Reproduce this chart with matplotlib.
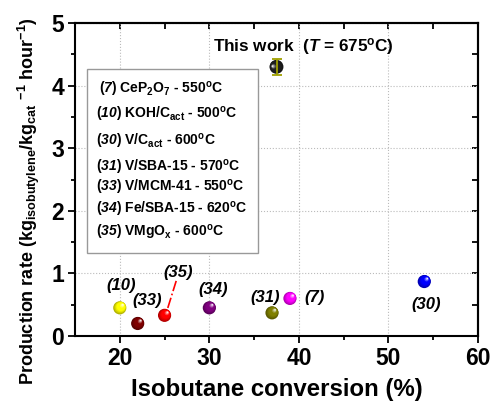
import numpy as np
import matplotlib
matplotlib.use("Agg")
import matplotlib.pyplot as plt
import matplotlib.colors as mcolors
import matplotlib.transforms as mtransforms
from matplotlib.patches import Rectangle

plt.rcParams['font.family'] = ['Liberation Sans', 'DejaVu Sans']
plt.rcParams['font.weight'] = 'bold'
plt.rcParams['mathtext.fontset'] = 'custom'
plt.rcParams['mathtext.rm'] = 'Liberation Sans:bold'
plt.rcParams['mathtext.bf'] = 'Liberation Sans:bold'
plt.rcParams['mathtext.it'] = 'Liberation Sans:italic:bold'
plt.rcParams['mathtext.sf'] = 'Liberation Sans:italic:bold'
plt.rcParams['mathtext.default'] = 'rm'

# ---- data ----
refs = ['10', '33', '35', '34', '31', '7', '30']
conversion = [20, 22, 25, 30, 37, 39, 54]
rate = [0.45, 0.20, 0.33, 0.45, 0.37, 0.60, 0.87]
colors = ['#ffff00', '#800000', '#ff0000', '#800080', '#808000', '#ff00ff', '#0000ff']
label_x = [20.1, 23.0, 26.5, 30.4, 36.2, 41.8, 54.2]
label_y = [0.80, 0.56, 1.02, 0.75, 0.62, 0.62, 0.51]

this_conv = 37.5
this_rate = 4.30
this_err = 0.13

legend_lines = [
    r'($\mathsf{7}$) CeP$_{2}$O$_{7}$ - 550$^{o}$C',
    r'($\mathsf{10}$) KOH/C$_{act}$ - 500$^{o}$C',
    r'($\mathsf{30}$) V/C$_{act}$ - 600$^{o}$C',
    r'($\mathsf{31}$) V/SBA-15 - 570$^{o}$C',
    r'($\mathsf{33}$) V/MCM-41 - 550$^{o}$C',
    r'($\mathsf{34}$) Fe/SBA-15 - 620$^{o}$C',
    r'($\mathsf{35}$) VMgO$_{x}$ - 600$^{o}$C',
]
x_ticks = [20, 30, 40, 50, 60]
y_ticks = [0, 1, 2, 3, 4, 5]

fig = plt.figure(figsize=(4.92, 4.01), dpi=100)
ax = fig.add_axes([75/492, 1-336/401, 403/492, 313/401])
ax.set_xlim(15, 60)
ax.set_ylim(0, 5)


def sphere(ax, x, y, color, size, z=5, dx=1.0, dy=1.0):
    base = np.array(mcolors.to_rgb(color))
    dark = base * 0.7
    ax.scatter([x], [y], s=size, color=dark, edgecolors='none', zorder=z)
    n = 8
    for i in range(1, n + 1):
        f = i / n
        c = dark + (base - dark) * min(1, f * 3)
        if f > 0.65:
            c = c + (1 - c) * (f - 0.65) / 0.35 * 0.95
        s = size * (1 - 0.9 * f) ** 2
        off = mtransforms.ScaledTranslation(2.2 * dx * f / 72, 2.2 * dy * f / 72, fig.dpi_scale_trans)
        ax.scatter([x], [y], s=s, color=np.clip(c, 0, 1), edgecolors='none', zorder=z + 0.01 * i,
                   transform=ax.transData + off)


for xv, yv, c in zip(conversion, rate, colors):
    sphere(ax, xv, yv, c, 90)

for r, lx, ly in zip(refs, label_x, label_y):
    ax.text(lx, ly, '(' + r + ')', ha='center', va='center', fontsize=12, fontstyle='italic', zorder=6)

# dash-dot pointer for (35)
ax.plot([26.3, 25.3], [0.88, 0.42], color='#ff0000', linestyle='-.', linewidth=1.2, zorder=4)

# this work
ax.errorbar([this_conv], [this_rate], yerr=[this_err], fmt='none', ecolor='#a0a000', capsize=3.5,
            elinewidth=1.3, capthick=1.3, zorder=7)
sphere(ax, this_conv, this_rate, '#202020', 100, z=6, dx=-1.3, dy=0.2)
ax.text(30.4, 4.63, r'This work  ($\mathit{T}$ = 675$^{o}$C)', ha='left', va='center', fontsize=12.3, zorder=6)

# legend box
ax.add_patch(Rectangle((0.029, 0.265), 0.425, 0.588, transform=ax.transAxes, facecolor='white',
                       edgecolor='#999999', linewidth=1.0, zorder=8))
ybl = [0.776, 0.693, 0.607, 0.524, 0.460, 0.390, 0.316]
for i, (t, yb) in enumerate(zip(legend_lines, ybl)):
    ax.text(0.06 if i == 0 else 0.052, yb, t, transform=ax.transAxes, ha='left', va='baseline',
            fontsize=10, zorder=9)

ax.set_xticks(x_ticks)
ax.set_yticks(y_ticks)
ax.set_xticks([25, 35, 45, 55], minor=True)
ax.set_yticks([0.5, 1.5, 2.5, 3.5, 4.5], minor=True)
ax.grid(True, which='major', linestyle=':', color='#bbbbbb', linewidth=0.8, zorder=0)
ax.set_axisbelow(True)
ax.tick_params(axis='both', which='both', direction='out', width=1.3, labelsize=16.5)
ax.tick_params(axis='both', which='major', length=5, pad=3)
ax.tick_params(axis='both', which='minor', length=3)
for lab in ax.get_xticklabels() + ax.get_yticklabels():
    lab.set_fontweight('bold')

# inward ticks on top/right via secondary axes
sx = ax.secondary_xaxis('top')
sx.set_xticks(x_ticks + [25, 35, 45, 55])
sx.tick_params(direction='in', length=4, width=1.3, labeltop=False)
sy = ax.secondary_yaxis('right')
sy.set_yticks(y_ticks + [0.5, 1.5, 2.5, 3.5, 4.5])
sy.tick_params(direction='in', length=4, width=1.3, labelright=False)
for sp in ax.spines.values():
    sp.set_linewidth(1.5)
sx.spines['top'].set_linewidth(1.5)
sy.spines['right'].set_linewidth(1.5)

ax.set_xlabel('Isobutane conversion (%)', fontsize=17.3, fontweight='bold', labelpad=6)
ax.set_ylabel(r'Production rate (kg$_{isobutylene}$/kg$_{cat}$ $^{-1}$ hour$^{-1}$)', fontsize=13,
              fontweight='bold')
ax.yaxis.set_label_coords(-0.082, 0.431)

fig.savefig('out.png', dpi=100)
